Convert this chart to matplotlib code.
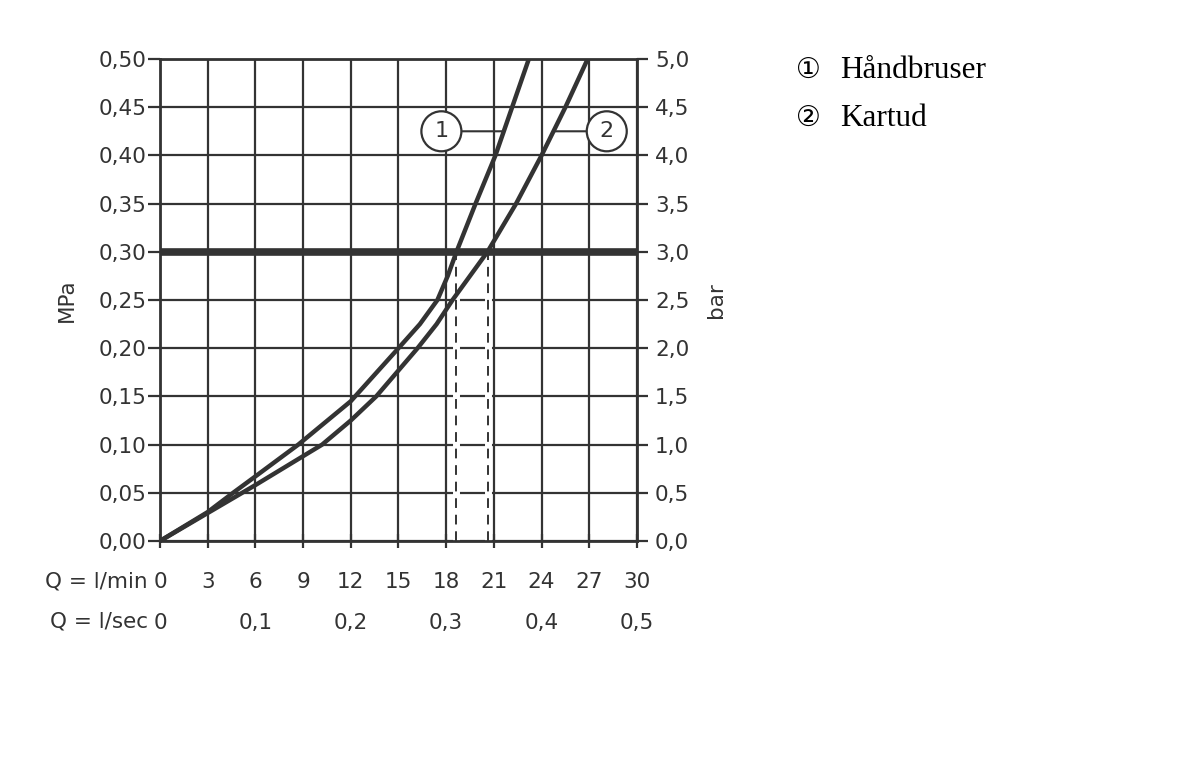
import numpy as np
import matplotlib.pyplot as plt

# points: flow (l/min) and pressure (MPa)
flow_handbruser = [0.0, 3.0, 4.6, 6.0, 8.7, 12.0, 15.0, 16.35, 17.45, 18.1, 18.65, 19.85, 21.1, 22.15, 23.2]
pres_handbruser = [0.0, 0.03, 0.05, 0.067, 0.10, 0.145, 0.20, 0.225, 0.25, 0.275, 0.30, 0.35, 0.40, 0.45, 0.50]

flow_kartud = [0.0, 3.0, 6.0, 9.0, 10.2, 12.0, 13.6, 16.2, 17.4, 18.4, 19.5, 20.6, 22.4, 24.0, 25.5, 26.9]
pres_kartud = [0.0, 0.029, 0.058, 0.088, 0.10, 0.125, 0.15, 0.20, 0.225, 0.25, 0.275, 0.30, 0.35, 0.40, 0.45, 0.50]

# flow at 0.3 MPa (dashed markers)
flow_at_3bar = [18.65, 20.6]
ref_pressure = 0.30

mpa_ticks = [0.0, 0.05, 0.10, 0.15, 0.20, 0.25, 0.30, 0.35, 0.40, 0.45, 0.50]
bar_ticks = [0.0, 0.5, 1.0, 1.5, 2.0, 2.5, 3.0, 3.5, 4.0, 4.5, 5.0]
lmin_ticks = [0, 3, 6, 9, 12, 15, 18, 21, 24, 27, 30]
lsec_ticks = [0, 0.1, 0.2, 0.3, 0.4, 0.5]

legend_labels = ["Håndbruser", "Kartud"]

dark = "#333333"
fs = 15.5

fig = plt.figure(figsize=(12, 7.65), dpi=100)
ax = fig.add_axes([0.1333, 0.2928, 0.3975, 0.6301])

ax.set_xlim(0, 30)
ax.set_ylim(0, 0.5)

# grid
for q in lmin_ticks:
    ax.axvline(q, color=dark, lw=1.6, zorder=1)
for p in mpa_ticks:
    ax.axhline(p, color=dark, lw=1.6, zorder=1)

ax.axhline(ref_pressure, color=dark, lw=5.5, zorder=3)

for q in flow_at_3bar:
    ax.plot([q, q], [0, ref_pressure], color="white", lw=5, zorder=2)
    ax.plot([q, q], [0, ref_pressure], color=dark, lw=1.4, ls=(0, (5, 3.5)), zorder=2.5)

ax.plot(flow_handbruser, pres_handbruser, color=dark, lw=3.2, zorder=4, solid_joinstyle="round")
ax.plot(flow_kartud, pres_kartud, color=dark, lw=3.2, zorder=4, solid_joinstyle="round")

# circled curve labels
circ = dict(boxstyle="circle,pad=0.45", fc="white", ec=dark, lw=1.6)
ax.annotate("1", xy=(21.5, 0.425), xytext=(17.7, 0.425), ha="center", va="center",
            fontsize=16, color=dark, bbox=circ, zorder=6,
            arrowprops=dict(arrowstyle="-", color=dark, lw=1.5, shrinkA=0, shrinkB=0))
ax.annotate("2", xy=(24.8, 0.425), xytext=(28.1, 0.425), ha="center", va="center",
            fontsize=16, color=dark, bbox=circ, zorder=6,
            arrowprops=dict(arrowstyle="-", color=dark, lw=1.5, shrinkA=0, shrinkB=0))

for s in ax.spines.values():
    s.set_color(dark)
    s.set_linewidth(2)

ax.set_yticks(mpa_ticks, [f"{v:.2f}".replace(".", ",") for v in mpa_ticks])
ax.set_xticks(lmin_ticks, [str(v) for v in lmin_ticks])
ax.tick_params(axis="y", direction="out", length=9, width=1.6, color=dark,
               labelsize=fs, labelcolor=dark, pad=0.5)
ax.tick_params(axis="x", direction="inout", length=10, width=1.6, color=dark,
               labelsize=fs, labelcolor=dark, pad=17)
ax.set_ylabel("MPa", fontsize=fs, color=dark, labelpad=16)

ax2 = ax.twinx()
ax2.set_ylim(0, 5)
ax2.set_yticks(bar_ticks, [f"{v:.1f}".replace(".", ",") for v in bar_ticks])
ax2.tick_params(axis="y", direction="out", length=8, width=1.6, color=dark,
                labelsize=fs, labelcolor=dark, pad=5)
ax2.set_ylabel("bar", fontsize=fs, color=dark, labelpad=12, rotation=90)
for s in ax2.spines.values():
    s.set_visible(False)

# second flow axis in l/sec
sec = ax.secondary_xaxis(-0.15, functions=(lambda q: q / 60, lambda s: s * 60))
sec.set_xticks(lsec_ticks, ["0"] + [f"{v:.1f}".replace(".", ",") for v in lsec_ticks[1:]])
sec.tick_params(length=0, labelsize=fs, labelcolor=dark, pad=0)
sec.spines["bottom"].set_visible(False)

ax.text(-0.025, -0.085, "Q = l/min", transform=ax.transAxes, ha="right", va="center",
        fontsize=fs, color=dark)
ax.text(-0.025, -0.168, "Q = l/sec", transform=ax.transAxes, ha="right", va="center",
        fontsize=fs, color=dark)

# legend text on the right
for i, lab in enumerate(legend_labels):
    y = 1 - (70 + i * 48) / 765
    fig.text(796 / 1200, y, "\u2460\u2461"[i], family=["DejaVu Sans"], fontsize=20,
             va="center", ha="left", color="black")
    fig.text(840 / 1200, y, lab, family=["Liberation Serif"], fontsize=22.5,
             va="center", ha="left", color="black")

fig.savefig("out.png", dpi=100)
